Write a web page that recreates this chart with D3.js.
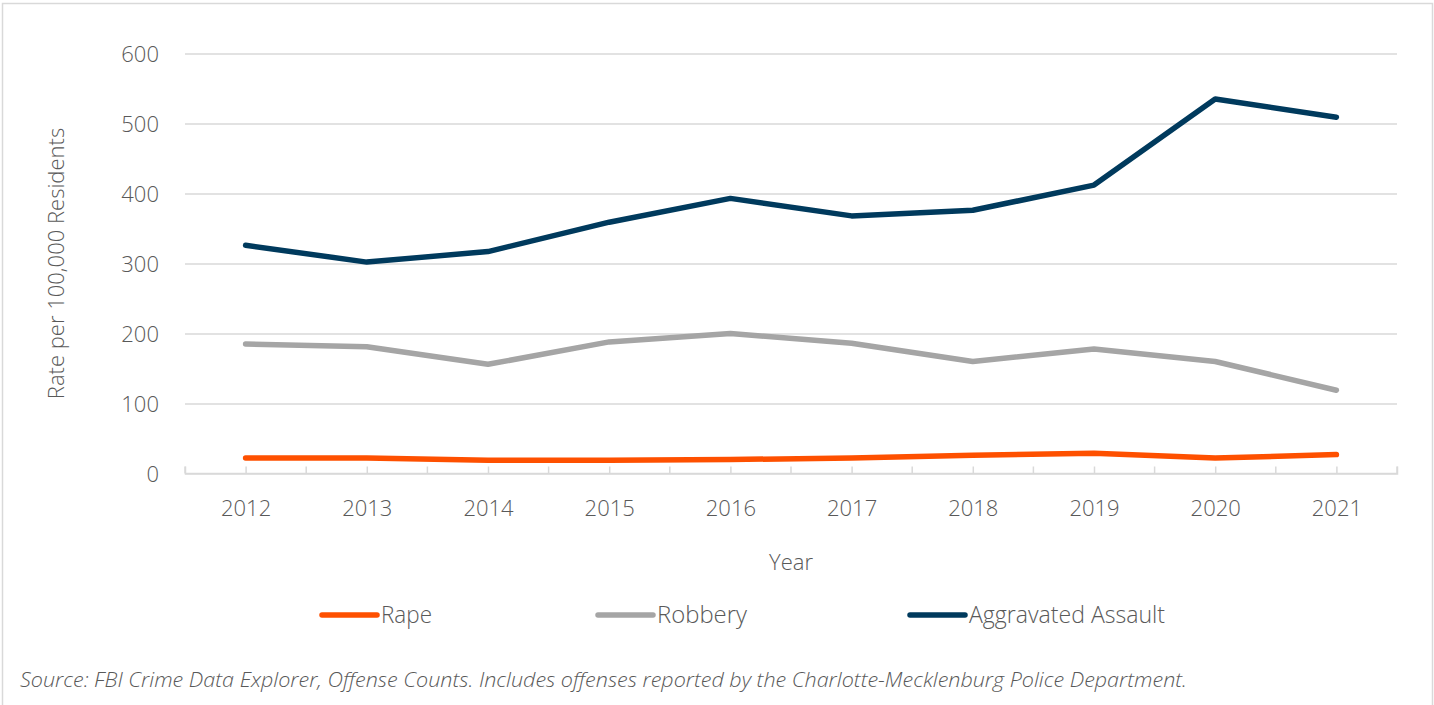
<!DOCTYPE html>
<html>
<head>
<meta charset="utf-8">
<script src="https://cdn.jsdelivr.net/npm/d3@7"></script>
<style>
  body { margin: 0; background: #fff; }
  svg text { font-family: "Open Sans", sans-serif; font-weight: 300; fill: #595959; }
</style>
</head>
<body>
<svg id="chart"></svg>
<script>
const years = [2012, 2013, 2014, 2015, 2016, 2017, 2018, 2019, 2020, 2021];
const rape = [22, 22, 19, 19, 20, 22, 26, 29, 22, 27];
const robbery = [185, 181, 156, 188, 200, 186, 160, 178, 160, 119];
const aggravatedAssault = [326, 302, 317, 359, 393, 368, 376, 412, 535, 509];
const yTicks = [0, 100, 200, 300, 400, 500, 600];

const series = [
    { name: "Rape", values: rape, color: "#fe5000" },
    { name: "Robbery", values: robbery, color: "#a5a5a5" },
    { name: "Aggravated Assault", values: aggravatedAssault, color: "#003a5d" }
];

const width = 1434, height = 705;
const margin = { top: 53.5, right: 37, bottom: 231.5, left: 185 };
const innerW = width - margin.left - margin.right;
const innerH = height - margin.top - margin.bottom;

const svg = d3.select("#chart").attr("width", width).attr("height", height);

// outer frame
svg.append("rect")
    .attr("x", 2.5).attr("y", 3.5)
    .attr("width", width - 4).attr("height", height + 10)
    .attr("fill", "none").attr("stroke", "#d9d9d9").attr("stroke-width", 1.5);

const g = svg.append("g").attr("transform", `translate(${margin.left},${margin.top})`);

const x = d3.scalePoint().domain(years).range([0, innerW]).padding(0.5);
const y = d3.scaleLinear().domain([0, 600]).range([innerH, 0]);

// gridlines
g.append("g")
    .call(d3.axisLeft(y).tickValues(yTicks.slice(1)).tickSize(-innerW).tickFormat(""))
    .call(a => a.select(".domain").remove())
    .call(a => a.selectAll("line").attr("stroke", "#d9d9d9").attr("stroke-width", 1.5));

// y labels
g.append("g")
    .call(d3.axisLeft(y).tickValues(yTicks).tickSize(0).tickPadding(26))
    .call(a => a.select(".domain").remove())
    .call(a => a.selectAll("text").style("font-size", "22px").attr("dy", "0.36em"));

// x axis
const xAxis = g.append("g").attr("transform", `translate(0,${innerH})`);
xAxis.call(d3.axisBottom(x).tickSize(-7).tickPadding(0))
    .call(a => a.select(".domain").attr("stroke", "#d9d9d9").attr("stroke-width", 1.5))
    .call(a => a.selectAll("line").attr("stroke", "#d9d9d9").attr("stroke-width", 1.5))
    .call(a => a.selectAll("text").style("font-size", "22px").attr("y", 42).attr("dy", 0));
xAxis.append("path")
    .attr("d", "M0,0H" + innerW)
    .attr("stroke", "#d9d9d9").attr("stroke-width", 1.5);
xAxis.selectAll(".bound")
    .data([years[0]].concat(years))
    .join("line")
    .attr("class", "bound")
    .attr("x1", (d, i) => i === 0 ? x(d) - x.step() / 2 : x(d) + x.step() / 2)
    .attr("x2", (d, i) => i === 0 ? x(d) - x.step() / 2 : x(d) + x.step() / 2)
    .attr("y1", 0).attr("y2", -7)
    .attr("stroke", "#d9d9d9").attr("stroke-width", 1.5);

// lines
const line = d3.line().x((d, i) => x(years[i])).y(d => y(d));
g.selectAll(".series")
    .data(series)
    .join("path")
    .attr("class", "series")
    .attr("d", d => line(d.values))
    .attr("fill", "none")
    .attr("stroke", d => d.color)
    .attr("stroke-width", 5.5)
    .attr("stroke-linecap", "round")
    .attr("stroke-linejoin", "round");

// axis titles
svg.append("text")
    .attr("transform", `translate(64,${margin.top + innerH / 2}) rotate(-90)`)
    .attr("text-anchor", "middle")
    .style("font-size", "22px")
    .text("Rate per 100,000 Residents");

svg.append("text")
    .attr("x", margin.left + innerW / 2).attr("y", 570)
    .attr("text-anchor", "middle")
    .style("font-size", "22px")
    .text("Year");

// legend
const legendX = [322, 598, 910];
const legendW = [51, 90, 196];
const legend = svg.selectAll(".legend")
    .data(series)
    .join("g")
    .attr("class", "legend")
    .attr("transform", (d, i) => `translate(${legendX[i]},615)`);
legend.append("line")
    .attr("x1", 0).attr("x2", 55)
    .attr("stroke", d => d.color).attr("stroke-width", 5.5).attr("stroke-linecap", "round");
legend.append("text")
    .attr("x", 59).attr("y", 8)
    .style("font-size", "24px")
    .attr("textLength", (d, i) => legendW[i])
    .attr("lengthAdjust", "spacingAndGlyphs")
    .text(d => d.name);

// source note
svg.append("text")
    .attr("x", 20).attr("y", 687)
    .style("font-size", "19.5px")
    .style("font-style", "italic")
    .attr("textLength", 1167)
    .attr("lengthAdjust", "spacingAndGlyphs")
    .text("Source: FBI Crime Data Explorer, Offense Counts. Includes offenses reported by the Charlotte-Mecklenburg Police Department.");
</script>
</body>
</html>
